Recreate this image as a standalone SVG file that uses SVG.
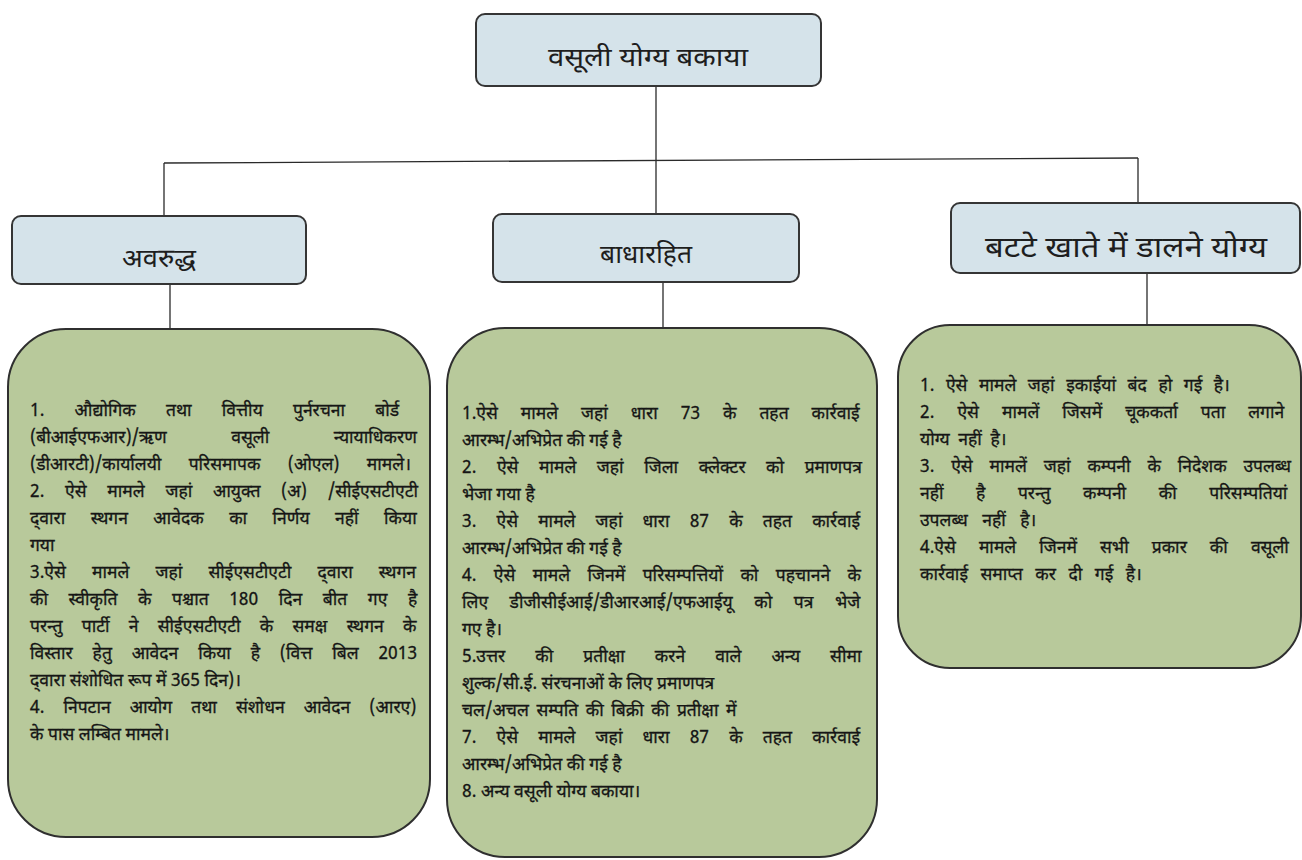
<svg xmlns="http://www.w3.org/2000/svg" width="1302" height="860" viewBox="0 0 1302 860">
<style>
.hdr{fill:#d5e3ea;stroke:#353535;stroke-width:2}
.grn{fill:#b8c99b;stroke:#2f2f2f;stroke-width:2}
.conn{stroke:#2a2a2a;stroke-width:1.3;fill:none}
.ht{font-family:'Noto Sans Devanagari','Lohit Devanagari','Noto Sans',sans-serif;fill:#1e1e1e;text-anchor:middle}
.bt{font-family:'Noto Sans Devanagari','Lohit Devanagari','Noto Sans',sans-serif;font-size:17.5px;fill:#151515;stroke:#151515;stroke-width:0.3}
</style>
<rect width="1302" height="860" fill="#ffffff"/>
<g id="connectors">
<path class="conn" d="M656 86V161"/>
<path class="conn" d="M164 163L1138 158"/>
<path class="conn" d="M164 163V216"/>
<path class="conn" d="M656 161V214"/>
<path class="conn" d="M1138 158V203"/>
<path class="conn" d="M170 284V329"/>
<path class="conn" d="M663 282V328"/>
<path class="conn" d="M1147 273V326"/>
</g>
<g id="root">
<rect class="hdr" x="476" y="14" width="345" height="72" rx="9"/>
<text class="ht" x="648" y="66" font-size="26" textLength="200" lengthAdjust="spacingAndGlyphs">वसूली योग्य बकाया</text>
</g>
<g id="h-avaruddh">
<rect class="hdr" x="12" y="216" width="294" height="68" rx="9"/>
<text class="ht" x="159" y="267" font-size="26" textLength="74" lengthAdjust="spacingAndGlyphs">अवरुद्ध</text>
</g>
<g id="h-badharahit">
<rect class="hdr" x="493" y="214" width="306" height="68" rx="9"/>
<text class="ht" x="646" y="263" font-size="25" textLength="92" lengthAdjust="spacingAndGlyphs">बाधारहित</text>
</g>
<g id="h-battekhate">
<rect class="hdr" x="951" y="203" width="349" height="70" rx="9"/>
<text class="ht" x="1126" y="257" font-size="28" textLength="282" lengthAdjust="spacingAndGlyphs">बटटे खाते में डालने योग्य</text>
</g>
<g id="box-left">
<rect class="grn" x="8" y="329" width="422" height="508" rx="58"/>
<text class="bt">
<tspan x="30" y="416" word-spacing="25.6">1. औद्योगिक तथा वित्तीय पुर्नरचना बोर्ड</tspan>
<tspan x="30" y="443" word-spacing="60">(बीआईएफआर)/ऋण वसूली न्यायाधिकरण</tspan>
<tspan x="30" y="470" word-spacing="22.7">(डीआरटी)/कार्यालयी परिसमापक (ओएल) मामले।</tspan>
<tspan x="30" y="497" word-spacing="16.2">2. ऐसे मामले जहां आयुक्त (अ) /सीईएसटीएटी</tspan>
<tspan x="30" y="524" word-spacing="20.9">द्&#x200C;वारा स्थगन आवेदक का निर्णय नहीं किया</tspan>
<tspan x="30" y="551">गया</tspan>
<tspan x="30" y="578" word-spacing="21.6">3.ऐसे मामले जहां सीईएसटीएटी द्&#x200C;वारा स्थगन</tspan>
<tspan x="30" y="605" word-spacing="16">की स्वीकृति के पश्चात 180 दिन बीत गए है</tspan>
<tspan x="30" y="632" word-spacing="14.7">परन्तु पार्टी ने सीईएसटीएटी के समक्ष स्थगन के</tspan>
<tspan x="30" y="659" word-spacing="15.3">विस्तार हेतु आवेदन किया है (वित्त बिल 2013</tspan>
<tspan x="30" y="686">द्&#x200C;वारा संशोधित रूप में 365 दिन)।</tspan>
<tspan x="30" y="713" word-spacing="14.5">4. निपटान आयोग तथा संशोधन आवेदन (आरए)</tspan>
<tspan x="30" y="740">के पास लम्बित मामले।</tspan>
</text>
</g>
<g id="box-middle">
<rect class="grn" x="447" y="328" width="430" height="529" rx="58"/>
<text class="bt">
<tspan x="462" y="419" word-spacing="18.4">1.ऐसे मामले जहां धारा 73 के तहत कार्रवाई</tspan>
<tspan x="462" y="446">आरम्भ/अभिप्रेत की गई है</tspan>
<tspan x="462" y="473" word-spacing="16">2. ऐसे मामले जहां जिला क्लेक्टर को प्रमाणपत्र</tspan>
<tspan x="462" y="500">भेजा गया है</tspan>
<tspan x="462" y="527" word-spacing="15.6">3. ऐसे मामले जहां धारा 87 के तहत कार्रवाई</tspan>
<tspan x="462" y="554">आरम्भ/अभिप्रेत की गई है</tspan>
<tspan x="462" y="581" word-spacing="12.9">4. ऐसे मामले जिनमें परिसम्पत्तियों को पहचानने के</tspan>
<tspan x="462" y="608" word-spacing="17">लिए डीजीसीईआई/डीआरआई/एफआईयू को पत्र भेजे</tspan>
<tspan x="462" y="635">गए है।</tspan>
<tspan x="462" y="662" word-spacing="25.5">5.उत्तर की प्रतीक्षा करने वाले अन्य सीमा</tspan>
<tspan x="462" y="689">शुल्क/सी.ई. संरचनाओं के लिए प्रमाणपत्र</tspan>
<tspan x="462" y="716" word-spacing="3">चल/अचल सम्पति की बिक्री की प्रतीक्षा में</tspan>
<tspan x="462" y="743" word-spacing="15.6">7. ऐसे मामले जहां धारा 87 के तहत कार्रवाई</tspan>
<tspan x="462" y="770">आरम्भ/अभिप्रेत की गई है</tspan>
<tspan x="462" y="797">8. अन्य वसूली योग्य बकाया।</tspan>
</text>
</g>
<g id="box-right">
<rect class="grn" x="898" y="325" width="403" height="343" rx="52"/>
<text class="bt">
<tspan x="920" y="391" word-spacing="7">1. ऐसे मामले जहां इकाईयां बंद हो गई है।</tspan>
<tspan x="920" y="418" word-spacing="18.5">2. ऐसे मामलें जिसमें चूककर्ता पता लगाने</tspan>
<tspan x="920" y="445" word-spacing="4">योग्य नहीं है।</tspan>
<tspan x="920" y="472" word-spacing="12.3">3. ऐसे मामलें जहां कम्पनी के निदेशक उपलब्ध</tspan>
<tspan x="920" y="499" word-spacing="28">नहीं है परन्तु कम्पनी की परिसम्पतियां</tspan>
<tspan x="920" y="526" word-spacing="10">उपलब्ध नहीं है।</tspan>
<tspan x="920" y="553" word-spacing="18.5">4.ऐसे मामले जिनमें सभी प्रकार की वसूली</tspan>
<tspan x="920" y="580" word-spacing="8">कार्रवाई समाप्त कर दी गई है।</tspan>
</text>
</g>
</svg>
